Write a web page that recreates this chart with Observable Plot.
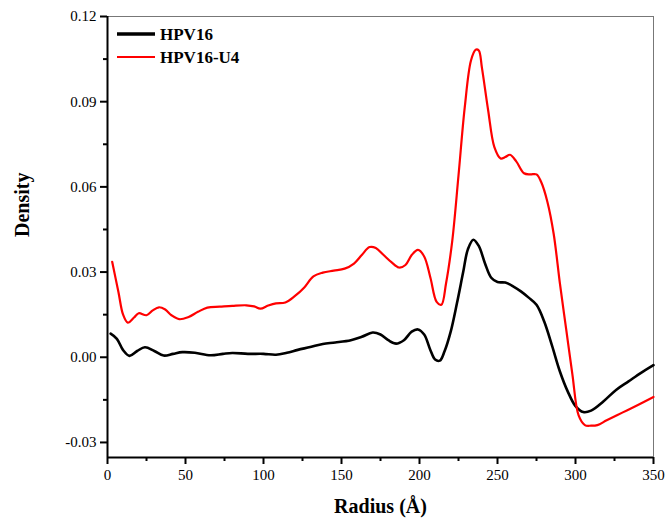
<!DOCTYPE html>
<html><head><meta charset="utf-8">
<script src="https://cdn.jsdelivr.net/npm/d3@7"></script>
<script src="https://cdn.jsdelivr.net/npm/@observablehq/plot@0.6"></script>
<style>
body{margin:0;background:#fff}
</style>
</head><body><div id="chart"></div>
<script>
const seriesNames = ["HPV16", "HPV16-U4"];
const seriesColors = ["#000000", "#ff0000"];
const radius16 = [2, 6, 10, 14, 19, 24, 30, 36, 42, 48, 56, 66, 74, 80, 90, 100, 108, 115, 122, 130, 138, 146, 156, 163, 170, 175, 180, 185, 190, 195, 199, 203, 207, 210, 213, 216, 220, 224, 228, 231, 234.5, 238, 242, 246, 250, 255, 260, 265, 270, 275, 280, 285, 290, 295, 300, 305, 310, 318, 326, 334, 342, 350];
const density16 = [0.0083, 0.0065, 0.0025, 0.0005, 0.0022, 0.0035, 0.0022, 0.0006, 0.0012, 0.0018, 0.0016, 0.0007, 0.0012, 0.0015, 0.0012, 0.0012, 0.0009, 0.0016, 0.0026, 0.0036, 0.0047, 0.0052, 0.0060, 0.0072, 0.0087, 0.0080, 0.0060, 0.0048, 0.0060, 0.0090, 0.0098, 0.0080, 0.0025, -0.0008, -0.0012, 0.0020, 0.0090, 0.0190, 0.0300, 0.0380, 0.0414, 0.0392, 0.0330, 0.0280, 0.0265, 0.0263, 0.0250, 0.0232, 0.0210, 0.0185, 0.0125, 0.0040, -0.0050, -0.0120, -0.0172, -0.0193, -0.0188, -0.0155, -0.0115, -0.0085, -0.0055, -0.0028];
const radiusU4 = [3, 7, 10, 13, 17, 20, 25, 29, 33, 37, 41, 46, 52, 58, 64, 72, 80, 89, 94, 98, 103, 108, 114, 120, 126, 132, 138, 145, 152, 158, 163, 168, 172, 177, 182, 187, 191, 195, 199, 203, 207, 211, 214, 217, 221, 225, 229, 233, 236, 238, 240, 244, 248, 252, 255, 258, 262, 267, 271, 275, 278, 282, 286, 290, 294, 298, 302, 306, 310, 314, 320, 330, 340, 350];
const densityU4 = [0.0336, 0.0230, 0.0150, 0.0122, 0.0140, 0.0155, 0.0148, 0.0165, 0.0176, 0.0168, 0.0148, 0.0134, 0.0142, 0.0160, 0.0175, 0.0178, 0.0181, 0.0183, 0.0179, 0.0171, 0.0182, 0.0190, 0.0193, 0.0215, 0.0245, 0.0285, 0.0298, 0.0305, 0.0312, 0.0330, 0.0360, 0.0388, 0.0385, 0.0360, 0.0335, 0.0316, 0.0325, 0.0360, 0.0378, 0.0355, 0.0280, 0.0195, 0.0185, 0.0260, 0.0410, 0.0640, 0.0880, 0.1045, 0.1083, 0.1080, 0.1020, 0.0870, 0.0740, 0.0700, 0.0705, 0.0713, 0.0690, 0.0648, 0.0644, 0.0644, 0.0617, 0.0547, 0.0435, 0.0260, 0.0100, -0.0060, -0.0205, -0.0239, -0.0241, -0.0239, -0.0222, -0.0195, -0.0168, -0.0140];
const xTicks = [0, 50, 100, 150, 200, 250, 300, 350];
const xMinorTicks = [25, 75, 125, 175, 225, 275, 325];
const yTicks = [-0.03, 0.00, 0.03, 0.06, 0.09, 0.12];
const yMinorTicks = [-0.015, 0.015, 0.045, 0.075, 0.105];
const xLabel = "Radius (Å)";
const yLabel = "Density";
const xDomain = [0, 350];
const yDomain = [-0.0353, 0.12];

const data16 = radius16.map((r, i) => ({r, d: density16[i]}));
const dataU4 = radiusU4.map((r, i) => ({r, d: densityU4[i]}));
const font = "Liberation Serif";

const plot = Plot.plot({
  width: 666, height: 523,
  marginLeft: 107, marginRight: 13, marginTop: 16, marginBottom: 66,
  style: {fontFamily: font, fontSize: "15px", color: "#000", background: "#fff"},
  x: {domain: xDomain},
  y: {domain: yDomain},
  marks: [
    Plot.frame({stroke: "#777", strokeWidth: 1}),
    Plot.line(data16, {x: "r", y: "d", stroke: seriesColors[0], strokeWidth: 2.6, curve: "catmull-rom"}),
    Plot.line(dataU4, {x: "r", y: "d", stroke: seriesColors[1], strokeWidth: 2.2, curve: "catmull-rom"}),
    Plot.ruleY([yDomain[0]], {stroke: "#000", strokeWidth: 2}),
    Plot.ruleX([xDomain[0]], {stroke: "#000", strokeWidth: 2}),
    Plot.axisX({ticks: xTicks, tickSize: 7, tickPadding: 5, strokeWidth: 2, tickFormat: d => String(d), label: null, fontSize: 15, fontFamily: font}),
    Plot.axisX({ticks: xMinorTicks, tickSize: 4, strokeWidth: 2, tickFormat: () => "", label: null}),
    Plot.axisY({ticks: yTicks, tickSize: 7, tickPadding: 4, strokeWidth: 2, tickFormat: d => d.toFixed(2), label: null, fontSize: 15, fontFamily: font}),
    Plot.axisY({ticks: yMinorTicks, tickSize: 4, strokeWidth: 2, tickFormat: () => "", label: null}),
    Plot.text([xLabel], {frameAnchor: "bottom", dy: 55, fontWeight: "bold", fontSize: 20, fill: "#000", fontFamily: font}),
    Plot.text([yLabel], {frameAnchor: "left", dx: -85, rotate: -90, fontWeight: "bold", fontSize: 20, fill: "#000", fontFamily: font})
  ]
});

const svg = d3.select(plot);
const lg = svg.append("g").attr("font-weight", "bold").attr("font-size", 17).attr("text-anchor", "start");
const lw = [3.5, 2];
seriesNames.forEach((name, i) => {
  const y = 34 + i * 23;
  lg.append("line").attr("x1", 117).attr("x2", 155).attr("y1", y).attr("y2", y)
    .attr("stroke", seriesColors[i]).attr("stroke-width", lw[i]);
  lg.append("text").attr("x", 160).attr("y", y).attr("dy", "0.36em").attr("fill", "#000").attr("text-anchor", "start").text(name);
});
svg.selectAll("text, g").attr("font-family", font).style("font-family", font);
document.getElementById("chart").appendChild(plot);
</script>
</body></html>
